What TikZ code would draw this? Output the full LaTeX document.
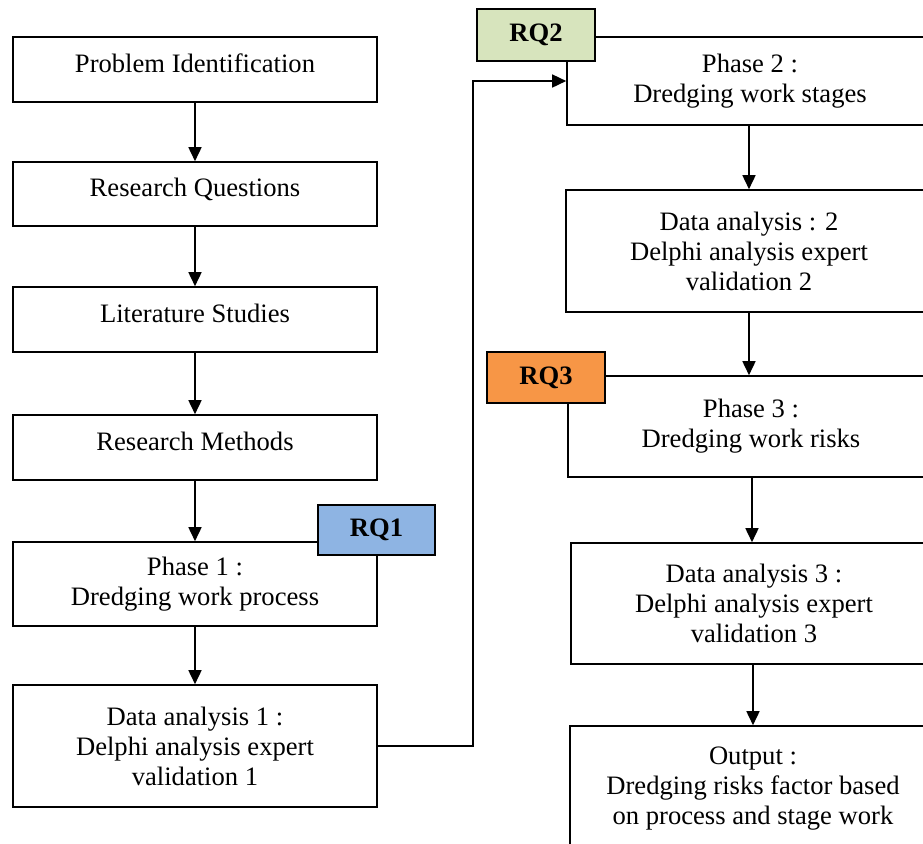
\documentclass[tikz,border=0pt]{standalone}
\usepackage{fontspec}
\setmainfont{Liberation Serif}
\usepackage{tikz}
\usetikzlibrary{arrows.meta}
\usepackage{xcolor}

\definecolor{rqblue}{HTML}{8EB4E3}
\definecolor{rqgreen}{HTML}{D7E4BD}
\definecolor{rqorange}{HTML}{F79646}

\begin{document}
\begin{tikzpicture}[x=0.5pt, y=-0.5pt,
    box/.style={draw, line width=0.8pt, fill=white, align=center,
        font=\fontsize{13.3}{15}\selectfont, inner sep=0pt},
    leftbox/.style={box, minimum width=182pt},
    rightbox/.style={box, minimum width=183pt},
    oneline/.style={text height=10pt, text depth=7.2pt},
    rqtag/.style={draw, line width=0.8pt, minimum width=59pt, minimum height=25.5pt,
        font=\fontsize{13.3}{15}\selectfont\bfseries, inner sep=0pt},
    arr/.style={line width=0.8pt, -{Triangle[length=7pt, width=6.5pt]}}]
    \path[use as bounding box, clip] (0,0) rectangle (923,843);

    % left column
    \node[leftbox, oneline, minimum height=32.5pt] (probid) at (195,69.5) {Problem Identification};
    \node[leftbox, oneline, minimum height=32pt] (resq) at (195,194) {Research Questions};
    \node[leftbox, oneline, minimum height=32.5pt] (litstud) at (195,319.5) {Literature Studies};
    \node[leftbox, oneline, minimum height=32.5pt] (resmeth) at (195,447.5) {Research Methods};
    \node[leftbox, minimum height=42pt] (phase1) at (195,584) {Phase 1 :\\ Dredging work process};
    \node[leftbox, minimum height=61pt] (data1) at (195,746) {Data analysis 1 :\\ Delphi analysis expert\\ validation 1};

    % right column
    \node[rightbox, minimum height=44pt] (phase2) at (750,81) {Phase 2 :\\ Dredging work stages};
    \node[rightbox, minimum height=61pt] (data2) at (749,251) {Data analysis : 2\\ Delphi analysis expert\\ validation 2};
    \node[rightbox, minimum height=50.5pt] (phase3) at (751,426.5) {Phase 3 :\\ Dredging work risks};
    \node[rightbox, minimum height=60.5pt] (data3) at (754,603.5) {Data analysis 3 :\\ Delphi analysis expert\\ validation 3};
    \node[rightbox, minimum height=63pt] (output) at (753,789) {Output :\\ Dredging risks factor based\\ on process and stage work};

    % research question tags
    \node[rqtag, fill=rqblue, minimum width=58.5pt, minimum height=25pt] (rq1) at (376.5,530) {RQ1};
    \node[rqtag, fill=rqgreen, minimum height=26pt] (rq2) at (536,35) {RQ2};
    \node[rqtag, fill=rqorange] (rq3) at (546,377.5) {RQ3};

    \draw[arr] (probid) -- (resq);
    \draw[arr] (resq) -- (litstud);
    \draw[arr] (litstud) -- (resmeth);
    \draw[arr] (resmeth) -- (phase1);
    \draw[arr] (phase1) -- (data1);

    \coordinate (turn) at (473,746);
    \draw[arr] (data1.east) -- (turn) |- (phase2.west);

    \draw[arr] (data2.north |- phase2.south) -- (data2.north);
    \draw[arr] (data2.south) -- (data2.south |- phase3.north);
    \draw[arr] ([xshift=0.5pt]phase3.south) -- ([xshift=0.5pt]phase3.south |- data3.north);
    \draw[arr] (output.north |- data3.south) -- (output.north);
\end{tikzpicture}
\end{document}
